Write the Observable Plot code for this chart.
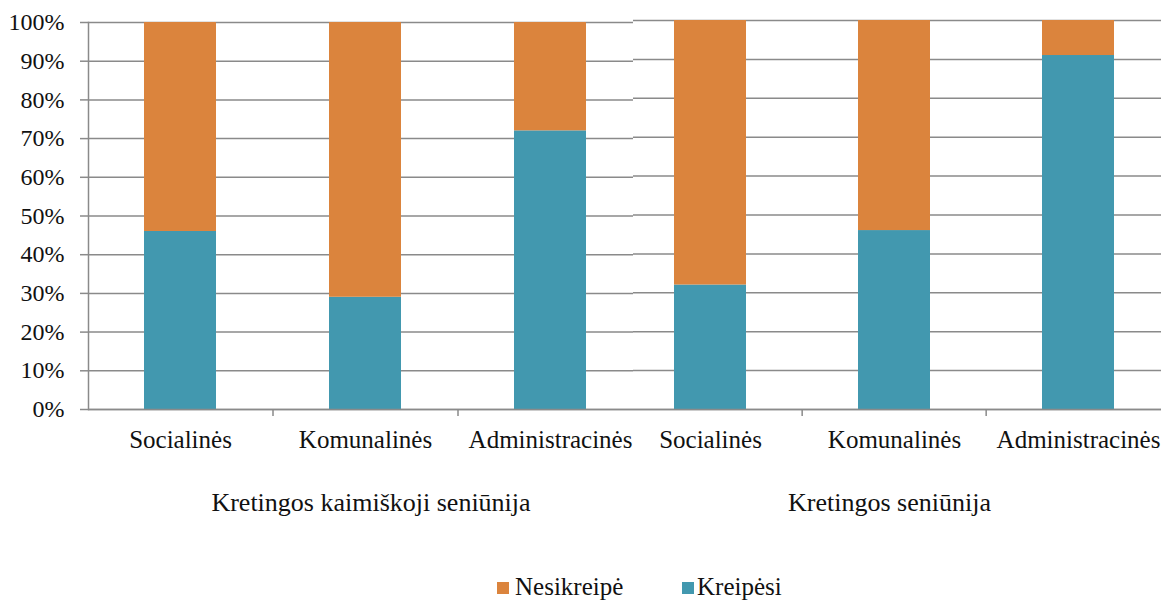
<!DOCTYPE html>
<html>
<head>
<meta charset="utf-8">
<script src="https://cdn.jsdelivr.net/npm/d3@7"></script>
<script src="https://cdn.jsdelivr.net/npm/@observablehq/plot@0.6"></script>
<style>
  html, body { margin: 0; padding: 0; background: #fff; }
  #wrap { position: relative; width: 1161px; height: 600px; overflow: hidden; font-family: "Liberation Serif", "Times New Roman", serif; }
  #wrap svg text { font-family: "Liberation Serif", "Times New Roman", serif; }
  #left, #right { position: absolute; top: 0; }
  #left { left: 0; }
  #right { left: 633px; }
  #legend { position: absolute; top: 574px; left: 0; width: 1161px; height: 26px; font-size: 25px; line-height: 25px; color: #111; }
  .sw { position: absolute; width: 12px; height: 12px; top: 8px; }
  .lt { position: absolute; top: 0; white-space: nowrap; }
</style>
</head>
<body>
<div id="wrap">
  <div id="left"></div>
  <div id="right"></div>
  <div id="legend"></div>
</div>
<script>
const categories = ["Socialinės", "Komunalinės", "Administracinės"];
const groups = ["Kretingos kaimiškoji seniūnija", "Kretingos seniūnija"];
const series = ["Kreipėsi", "Nesikreipė"];
const kreipesiLeft = [46, 29, 72];
const nesikreipeLeft = [54, 71, 28];
const kreipesiRight = [32, 46, 91];
const nesikreipeRight = [68, 54, 9];
const yTicks = [0, 10, 20, 30, 40, 50, 60, 70, 80, 90, 100];
const colors = ["#4298AF", "#DB843D"];

function rows(k, n) {
  const out = [];
  categories.forEach((c, i) => {
    out.push({cat: c, series: series[0], value: k[i]});
    out.push({cat: c, series: series[1], value: n[i]});
  });
  return out;
}

const H = 530;
const FONT = "Liberation Serif, Times New Roman, serif";

function panel({data, group, groupDx, width, marginLeft, marginTop, xRange, showY}) {
  const half = (xRange[1] - xRange[0]) / categories.length / 2;
  const marks = [
    Plot.gridY(yTicks, {stroke: "#8a8a8a", strokeOpacity: 1, strokeWidth: 1.5}),
    Plot.barY(data, {x: "cat", y: "value", fill: "series", order: series}),
    Plot.ruleY([0], {stroke: "#8a8a8a", strokeWidth: 1.5}),
    Plot.ruleX(categories.slice(1), {x: d => d, y1: 0, y2: 0, dx: -half, insetBottom: -7, stroke: "#8a8a8a", strokeWidth: 1.5}),
    Plot.axisX({tickSize: 0, tickPadding: 21, fontSize: 25, label: null}),
    Plot.text([group], {text: d => d, frameAnchor: "bottom", dx: groupDx, dy: 93, lineAnchor: "middle", fontSize: 26, fill: "#111"})
  ];
  if (showY) {
    marks.push(Plot.frame({anchor: "left", stroke: "#8a8a8a", strokeWidth: 1.5}));
    marks.push(Plot.axisY(yTicks, {tickSize: 8, tickPadding: 16, tickFormat: d => d + "%", fontSize: 24, label: null, stroke: "#8a8a8a", strokeWidth: 1.5}));
  } else {
    marks.push(Plot.axisY({ticks: [], label: null}));
  }
  return Plot.plot({
    width, height: H,
    marginLeft, marginRight: 0, marginTop, marginBottom: H - 409,
    style: {fontFamily: FONT, fontSize: "25px", color: "#111", background: "transparent", overflow: "visible"},
    x: {domain: categories, range: xRange, paddingInner: 0.61, paddingOuter: 0.305, label: null},
    y: {domain: [0, 100], label: null},
    color: {domain: series, range: colors},
    marks
  });
}

const left = panel({data: rows(kreipesiLeft, nesikreipeLeft), group: groups[0], groupDx: 10, width: 633, marginLeft: 88, marginTop: 22, xRange: [88, 643], showY: true});
const right = panel({data: rows(kreipesiRight, nesikreipeRight), group: groups[1], groupDx: -8, width: 528, marginLeft: 0, marginTop: 20, xRange: [-16, 538], showY: false});

document.getElementById("left").appendChild(left);
document.getElementById("right").appendChild(right);

const legend = document.getElementById("legend");
const legendItems = [
  {label: series[1], color: colors[1], sx: 497, tx: 515},
  {label: series[0], color: colors[0], sx: 682, tx: 697}
];
for (const it of legendItems) {
  const s = document.createElement("div");
  s.className = "sw"; s.style.left = it.sx + "px"; s.style.background = it.color;
  const t = document.createElement("div");
  t.className = "lt"; t.style.left = it.tx + "px"; t.textContent = it.label;
  legend.appendChild(s); legend.appendChild(t);
}
</script>
</body>
</html>
